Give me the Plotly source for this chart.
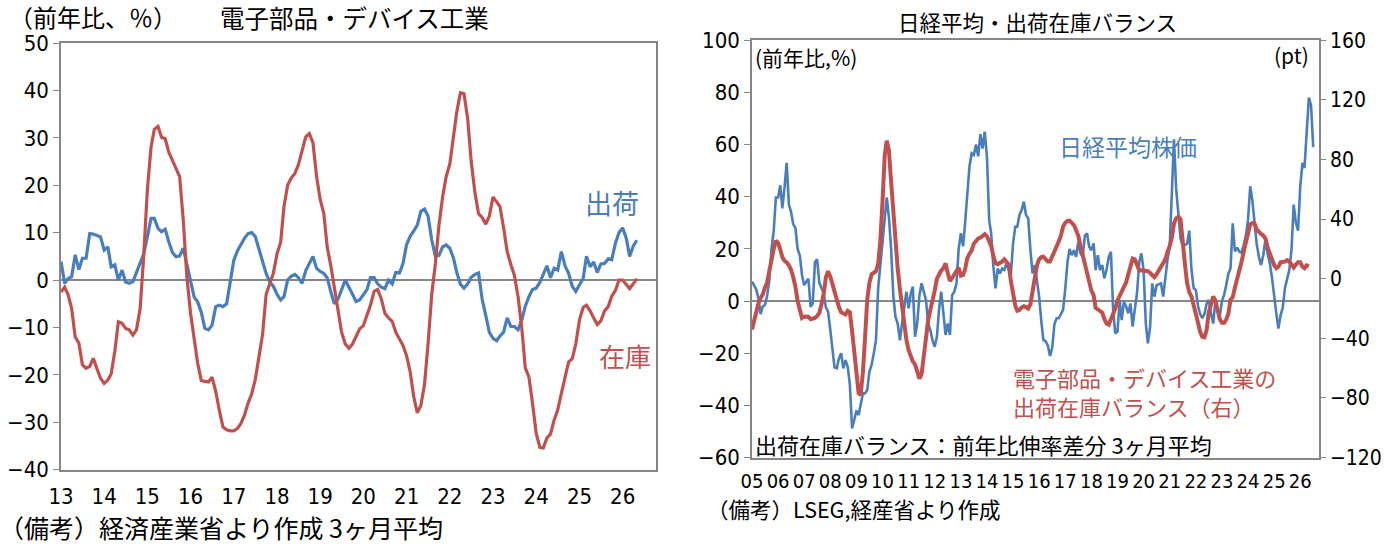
import pandas as pd
import plotly.graph_objects as go

W, H = 1384, 544

# ---------------- Left chart: 電子部品・デバイス工業 (前年比, %), monthly from 2013-01
ship_left = [
    3.9, -0.7, 0.3, 0.7, 5.3, 2.2, 4.6, 4.6, 9.8, 9.7, 9.4, 9.1,          # 2013
    6.3, 7.0, 2.8, 3.2, 0.0, 2.1, -0.4, -0.7, -0.3, 1.5, 3.5, 5.5,       # 2014
    9.1, 13.0, 13.0, 10.9, 10.2, 10.7, 8.1, 5.8, 4.9, 5.1, 6.7, 3.5,     # 2015
    0.0, -3.6, -4.6, -6.8, -10.2, -10.5, -9.5, -5.6, -5.3, -5.6, -5.0, -0.7,  # 2016
    4.2, 6.2, 7.5, 8.8, 9.8, 10.0, 9.2, 6.5, 3.9, 1.4, -0.4, -1.3,       # 2017
    -3.0, -4.2, -3.5, 0.0, 0.8, 1.2, 0.5, -0.7, 2.0, 3.5, 5.0, 2.5,      # 2018
    1.8, 1.4, 0.5, -2.5, -5.0, -4.0, -1.8, 0.0, -1.5, -3.0, -4.5, -4.2,  # 2019
    -3.0, -2.0, 0.5, 0.5, -0.8, -1.5, -1.8, 0.0, -0.8, 1.6, 1.5, 3.5,    # 2020
    7.5, 9.3, 10.3, 11.6, 14.5, 15.0, 13.5, 8.5, 5.0, 5.2, 7.0, 7.4,     # 2021
    6.7, 4.6, 1.6, -0.9, -1.7, -0.8, 0.6, 1.2, 1.5, -4.0, -7.5, -11.0,   # 2022
    -12.3, -12.8, -11.8, -11.0, -8.0, -9.8, -9.8, -10.5, -8.5, -5.5, -3.5, -2.0,  # 2023
    -1.7, -0.5, 1.2, 3.0, 0.5, 2.5, 2.1, 6.0, 3.0, 1.4, -1.3, -2.4,      # 2024
    -1.0, 0.3, 5.0, 2.8, 3.8, 1.6, 3.4, 3.5, 4.5, 4.3, 7.8, 10.0,        # 2025
    11.0, 8.8, 5.0, 7.2, 8.4,                                            # 2026
]
inv_left = [
    -2.5, -1.5, -3.0, -6.0, -12.0, -13.3, -17.9, -18.6, -18.2, -16.5, -18.7, -20.7,  # 2013
    -21.8, -21.1, -19.8, -15.0, -8.8, -9.1, -10.2, -10.5, -11.6, -10.5, -6.0, 5.0,   # 2014
    19.0, 28.0, 31.8, 32.4, 30.1, 29.8, 27.0, 25.3, 23.8, 21.8, 12.5, 0.7,           # 2015
    -7.0, -13.0, -17.5, -21.2, -21.3, -21.5, -20.5, -23.5, -27.5, -31.0, -31.6, -31.8,  # 2016
    -31.8, -31.3, -30.3, -28.5, -26.0, -24.0, -21.0, -16.5, -11.5, -3.0, -0.5, 1.4,  # 2017
    5.5, 8.0, 15.5, 20.0, 21.5, 22.5, 24.3, 27.5, 30.2, 30.9, 29.0, 22.0,            # 2018
    17.0, 14.0, 7.0, 3.0, -1.5, -6.5, -11.0, -13.5, -14.4, -13.5, -12.0, -10.3,      # 2019
    -9.6, -7.5, -5.3, -2.4, -2.0, -4.0, -7.0, -8.0, -8.7, -11.0, -12.5, -13.8,       # 2020
    -16.0, -19.5, -24.5, -28.0, -26.5, -22.0, -13.5, -3.0, 3.5, 11.5, 17.5, 21.8,    # 2021
    24.5, 30.5, 35.5, 39.5, 39.3, 34.0, 25.0, 18.5, 14.0, 13.2, 11.8, 13.5,          # 2022
    17.5, 16.5, 15.5, 11.0, 6.0, 3.3, 1.0, -3.5, -10.0, -18.5, -20.5, -26.0,         # 2023
    -32.3, -35.3, -35.4, -33.3, -32.5, -29.5, -27.4, -23.9, -20.5, -17.3, -16.6, -13.5,  # 2024
    -8.4, -5.8, -5.3, -6.5, -8.0, -9.4, -8.6, -6.5, -5.6, -3.4, -2.2, 0.0,           # 2025
    0.0, -1.0, -1.8, -0.8, 0.3,                                                      # 2026
]
left_years = list(range(2013, 2027))
left_ticktext = [f"{y % 100:02d}" for y in left_years]

# ---------------- Right chart: 日経平均 (前年比, %) and 出荷在庫バランス (pt), monthly from 2005-01
nikkei = [
    7.5, 6.0, 4.5, 1.0, -5.0, -2.0, -1.5, 2.0, 8.0, 20.0, 27.0, 39.7,          # 2005
    39.7, 44.4, 35.5, 43.5, 53.0, 37.0, 34.2, 29.5, 28.0, 20.0, 17.5, 10.0,    # 2006
    6.1, 7.5, 8.5, -2.2, -0.9, 15.0, 16.0, 7.0, 5.0, 3.0, -2.5, -4.0,          # 2007
    -11.0, -20.0, -25.5, -25.8, -22.0, -20.0, -25.8, -22.6, -25.2, -32.0, -48.8, -45.6,  # 2008
    -42.0, -43.7, -39.0, -35.4, -35.4, -34.1, -27.0, -24.5, -20.0, -15.0, 5.0, 13.8,     # 2009
    22.0, 30.0, 39.7, 32.0, 20.0, 2.0, -6.0, -8.6, -15.0, -8.6, -2.2, 3.6,     # 2010
    -2.8, 2.9, 5.5, -13.7, -8.6, 2.0, 6.8, 3.6, 0.4, -8.6, -11.1, -15.0,       # 2011
    -17.5, -13.7, -3.4, 3.6, -6.0, -13.0, -8.6, -13.0, 2.3, 3.6, 6.8, 20.0,    # 2012
    26.0, 21.0, 30.0, 42.0, 51.5, 56.6, 56.0, 60.0, 55.5, 64.0, 58.5, 64.9,    # 2013
    55.3, 31.0, 25.9, 13.2, 4.9, 12.5, 10.6, 12.5, 11.9, 14.4, 12.0, 10.0,     # 2014
    22.1, 28.5, 28.5, 33.0, 34.9, 38.1, 33.0, 31.7, 19.5, 10.6, 13.8, 8.0,     # 2015
    1.7, -8.0, -15.0, -15.4, -17.0, -21.0, -18.0, -9.0, -6.6, -6.6, -5.0, -3.4,  # 2016
    5.0, 15.0, 20.0, 17.6, 19.5, 17.0, 22.7, 18.3, 17.0, 25.0, 26.0, 20.8,     # 2017
    19.5, 22.1, 11.9, 17.6, 11.9, 13.8, 8.7, 12.0, 17.0, 18.9, -3.4, -12.4,    # 2018
    -11.7, 0.4, -7.3, -0.3, -2.0, -4.7, -0.9, -9.8, -3.0, 3.0, 15.0, 18.3,     # 2019
    11.9, -8.6, -16.2, -10.0, 6.8, 1.7, 6.1, 6.5, 6.8, 1.7, 10.0, 16.0,        # 2020
    21.0, 42.5, 62.0, 43.0, 34.0, 24.0, 21.0, 21.5, 22.0, 27.0, 12.0, 5.0,     # 2021
    4.2, -2.0, -5.0, -6.5, -5.0, -1.0, 0.4, -4.7, -8.6, 0.0, -3.0, -6.0,       # 2022
    0.0, 2.5, 6.0, 10.5, 12.5, 29.8, 19.0, 20.5, 19.0, 18.5, 21.5, 25.0,       # 2023
    31.0, 44.0, 38.7, 29.0, 22.0, 17.0, 13.8, 17.6, 23.4, 18.3, 14.5, 9.0,     # 2024
    3.0, -5.0, -10.5, -5.4, -2.5, 5.0, 8.5, 12.0, 20.0, 37.0, 30.0, 27.0,      # 2025
    44.0, 53.0, 51.0, 66.0, 78.0, 75.0, 59.0,                                  # 2026
]
balance = [
    -34, -27, -22, -16.5, -13, -10.5, -6, -2.5, 5.5, 14, 20, 25.5,        # 2005
    24, 19.5, 14.5, 12, 11, 9, 6, 1, -5.5, -15, -22, -26.3,               # 2006
    -25.3, -25.1, -25.5, -27.2, -27, -26.3, -25, -23, -17, -10, 1, 5,     # 2007
    1.5, -4, -8.5, -14, -19, -22.5, -23.5, -24, -21.5, -22.5, -35, -50,   # 2008
    -66, -77, -78, -63, -40, -14, -3, 3, 4, 5, 10, 25,                    # 2009
    52, 83, 92.5, 86, 65, 42, 22, 7, -7, -20, -32, -41,                   # 2010
    -48, -53, -55.5, -57.5, -62, -67, -64, -51, -40, -28, -21, -15.5,     # 2011
    -8, 0, 3.5, 5.5, 7, 10.3, 4, -1.5, 0.5, 3, 5.5, 7.4,                  # 2012
    2, 2.5, 6.3, 14, 16.5, 19, 23.5, 25.5, 27, 27.5, 28.5, 29.9,          # 2013
    28.5, 25.5, 22, 15, 10.5, 9.7, 10.3, 11.5, 13, 11.5, 9.5, -1.5,       # 2014
    -11, -18, -21.5, -21, -19.3, -18.5, -19, -20, -17, -9, 1, 9,          # 2015
    13, 14.5, 14.8, 13, 11.5, 11.5, 14.5, 17.5, 21.5, 25, 29, 35,         # 2016
    37.5, 38.8, 39, 37.5, 36, 32.5, 29, 22, 16, 10, 3, -4,                # 2017
    -8, -11, -19.5, -20.5, -21.5, -22.8, -27, -30, -30.8, -27.5, -24, -20,  # 2018
    -14.5, -11, -8.4, -5.5, -2.5, 3, 9, 13.5, 13, 8.5, 5.5, 5.6,          # 2019
    5.6, 5.4, 5, 3.8, 2, 1, 3, 5.5, 7.2, 10, 13, 18,                      # 2020
    22, 28, 37, 40.5, 41.5, 40, 28, 10, -3, -9, -12, -17,                 # 2021
    -23, -29.6, -35.5, -39, -39.3, -34.5, -22.5, -17, -12, -14.5, -21, -27,  # 2022
    -29.6, -29.6, -27.5, -23.5, -14, -12.5, -6, -1, 5, 11, 18, 25,        # 2023
    32, 36.5, 37.3, 37, 33, 31, 30, 29, 27, 21, 16.5, 13,                 # 2024
    9, 7, 8, 11, 11, 11.5, 12.5, 11.5, 9.5, 7.5, 9.5, 11,                 # 2025
    11, 8, 7, 9, 8.5,                                                     # 2026
]
right_years = list(range(2005, 2027))
right_ticktext = [f"{y % 100:02d}" for y in right_years]

# ---------------- styles
BLUE = "#4a7ebb"
RED = "#c0504d"
AXIS = "#868686"
NUM_FONT = "Liberation Sans Narrow, Arial Narrow, DejaVu Sans Condensed, Noto Sans CJK JP"
JP_FONT = "Noto Sans CJK JP, Noto Sans, sans-serif"

left_dates = pd.date_range("2013-01-01", periods=len(ship_left), freq="MS")
right_dates_n = pd.date_range("2005-01-01", periods=len(nikkei), freq="MS")
right_dates_b = pd.date_range("2005-01-01", periods=len(balance), freq="MS")


def px(x):
    return x / W


def py(y):
    return 1 - y / H


fig = go.Figure()
fig.add_trace(go.Scatter(x=left_dates, y=ship_left, mode="lines",
                         line=dict(color=BLUE, width=3.2), xaxis="x", yaxis="y"))
fig.add_trace(go.Scatter(x=left_dates, y=inv_left, mode="lines",
                         line=dict(color=RED, width=3.2), xaxis="x", yaxis="y"))
fig.add_trace(go.Scatter(x=right_dates_n, y=nikkei, mode="lines",
                         line=dict(color=BLUE, width=2.6), xaxis="x2", yaxis="y2"))
fig.add_trace(go.Scatter(x=right_dates_b, y=balance, mode="lines",
                         line=dict(color=RED, width=4), xaxis="x2", yaxis="y3"))


def axis_style(size):
    return dict(showgrid=False, showline=True, linecolor=AXIS, linewidth=1.5,
                automargin=False,
                tickfont=dict(family=NUM_FONT, size=size, color="black"))


fig.update_layout(
    width=W, height=H,
    margin=dict(l=0, r=0, t=0, b=0, pad=0, autoexpand=False),
    paper_bgcolor="white", plot_bgcolor="white",
    showlegend=False,
    xaxis=dict(domain=[px(61), px(656)], anchor="y", mirror=True,
               range=["2013-01-01", "2026-10-10"],
               tickvals=[f"{y}-01-01" for y in left_years], ticktext=left_ticktext,
               ticks="", tickangle=0, ticklabelstandoff=6, zeroline=False,
               **axis_style(22)),
    yaxis=dict(domain=[py(469.7), py(43)], anchor="x", mirror=True,
               range=[-40, 50], dtick=10, ticks="outside", ticklen=6, tickcolor=AXIS,
               zeroline=True, zerolinecolor=AXIS, zerolinewidth=1.5, **axis_style(22)),
    xaxis2=dict(domain=[px(752), px(1319)], anchor="y2", mirror=True,
                range=["2005-01-01", "2026-09-20"],
                tickvals=[f"{y}-01-01" for y in right_years], ticktext=right_ticktext,
                ticks="", tickangle=0, ticklabelstandoff=5, zeroline=False,
                **axis_style(20)),
    yaxis2=dict(domain=[py(457.6), py(40.2)], anchor="x2",
                range=[-60, 100], dtick=20, ticks="outside", ticklen=6, tickcolor=AXIS,
                zeroline=True, zerolinecolor=AXIS, zerolinewidth=1.5, **axis_style(22)),
    yaxis3=dict(overlaying="y2", anchor="x2", side="right",
                range=[-120, 160], dtick=40, ticks="outside", ticklen=5, tickcolor=AXIS,
                zeroline=False, **axis_style(21)),
)


def note(text, x, y, color="black", size=21, anchor="left"):
    fig.add_annotation(text=text, x=px(x), y=py(y), xref="paper", yref="paper",
                       xanchor=anchor, yanchor="middle", showarrow=False,
                       borderpad=0, align="left",
                       font=dict(family=JP_FONT, size=size, color=color))


# left chart texts
note("（前年比、％）", 8, 16, size=24)
note("電子部品・デバイス工業", 219, 17, size=24.5)
note("出荷", 584, 202, color=BLUE, size=27)
note("在庫", 598, 355, color=RED, size=26)
note("（備考）経済産業省より作成 3ヶ月平均", -2, 527, size=25)

# right chart texts
note("日経平均・出荷在庫バランス", 1037, 22, size=21.5, anchor="center")
note("(前年比,%)", 754, 57, size=21)
note("(pt)", 1310, 55, size=21, anchor="right")
note("日経平均株価", 1058, 146, color=BLUE, size=23)
note("電子部品・デバイス工業の", 1012, 377, color=RED, size=22)
note("出荷在庫バランス（右）", 1012, 406, color=RED, size=22)
note("出荷在庫バランス：前年比伸率差分 3ヶ月平均", 754, 444, size=22)
note("（備考）LSEG,経産省より作成", 706, 508, size=21.5)

fig.write_html("out.html")
